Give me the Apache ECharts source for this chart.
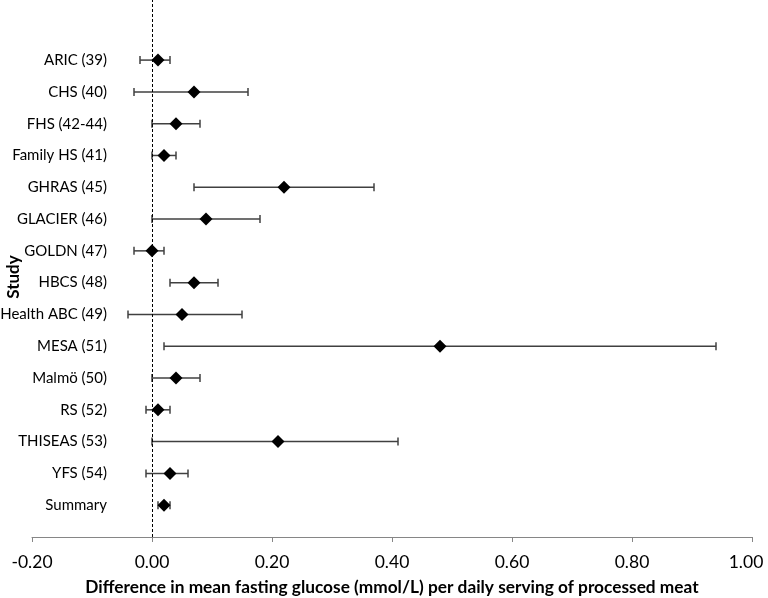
<!DOCTYPE html>
<html>
<head>
<meta charset="utf-8">
<script src="https://cdn.jsdelivr.net/npm/echarts@6/dist/echarts.min.js"></script>
<style>html,body{margin:0;padding:0;background:#fff;}#c{width:768px;height:598px;}</style>
</head>
<body>
<div id="c"></div>
<script>
const studies = ['ARIC (39)','CHS (40)','FHS (42-44)','Family HS (41)','GHRAS (45)','GLACIER (46)','GOLDN (47)','HBCS (48)','Health ABC (49)','MESA (51)','Malmö (50)','RS (52)','THISEAS (53)','YFS (54)','Summary'];
const estimate = [0.01,0.07,0.04,0.02,0.22,0.09,0.00,0.07,0.05,0.48,0.04,0.01,0.21,0.03,0.02];
const lower = [-0.02,-0.03,0.00,0.00,0.07,0.00,-0.03,0.03,-0.04,0.02,0.00,-0.01,0.00,-0.01,0.01];
const upper = [0.03,0.16,0.08,0.04,0.37,0.18,0.02,0.11,0.15,0.94,0.08,0.03,0.41,0.06,0.03];
const xMin = -0.2, xMax = 1.0, xStep = 0.2;
const xTitle = 'Difference in mean fasting glucose (mmol/L) per daily serving of processed meat';
const yTitle = 'Study';

const n = studies.length;
const FONT = 'Lato';
const chart = echarts.init(document.getElementById('c'), null, {renderer:'canvas'});
const pts = estimate.map((v,i)=>[v, n - i]);
const bars = lower.map((lo,i)=>[lo, upper[i], n - i]);

chart.setOption({
  animation:false,
  backgroundColor:'#fff',
  grid:{left:32, right:16, top:0, bottom:61, containLabel:false, outerBoundsMode:'none'},
  xAxis:{
    type:'value', min:xMin, max:xMax, interval:xStep,
    name:xTitle, nameLocation:'middle', nameGap:42,
    nameTextStyle:{fontFamily:FONT, fontSize:17.3, fontWeight:'bold', color:'#000'},
    axisLine:{show:true, onZero:false, lineStyle:{color:'#868686', width:1}},
    axisTick:{show:true, length:5, lineStyle:{color:'#868686'}},
    splitLine:{show:false},
    axisLabel:{fontFamily:FONT, fontSize:17.5, color:'#000', margin:16,
      formatter:v=>{const s=v.toFixed(2); return Math.abs(v-xMax)<1e-9 ? '{r|'+s+'}' : s;},
      rich:{r:{fontFamily:FONT, fontSize:17.5, color:'#000', padding:[0,12,0,0]}}}
  },
  yAxis:{
    type:'value', min:0, max:16.89, interval:1,
    axisLine:{show:false}, axisTick:{show:false}, splitLine:{show:false},
    axisLabel:{fontFamily:FONT, fontSize:15, color:'#000', margin:-75, align:'right',
      showMaxLabel:false, showMinLabel:false,
      formatter:v=>{const k=Math.round(v); if(Math.abs(v-k)>1e-6) return ''; const i=n-k; return (i>=0&&i<n)?studies[i]:'';}}
  },
  graphic:[{
    type:'text', x:14, y:277, rotation:Math.PI/2,
    style:{text:yTitle, fontFamily:FONT, fontSize:17, fontWeight:'bold', fill:'#000', align:'center', verticalAlign:'middle'}
  }],
  series:[
    {
      type:'custom',
      data:bars,
      renderItem:(params, api)=>{
        const a = api.coord([api.value(0), api.value(2)]);
        const b = api.coord([api.value(1), api.value(2)]);
        const st = {stroke:'#404040', lineWidth:1.5};
        return {type:'group', children:[
          {type:'line', shape:{x1:a[0], y1:a[1], x2:b[0], y2:b[1]}, style:st},
          {type:'line', shape:{x1:a[0], y1:a[1]-4, x2:a[0], y2:a[1]+4}, style:st},
          {type:'line', shape:{x1:b[0], y1:b[1]-4, x2:b[0], y2:b[1]+4}, style:st}
        ]};
      },
      z:2
    },
    {
      type:'scatter',
      data:pts,
      symbol:'diamond', symbolSize:[13,13],
      itemStyle:{color:'#000', opacity:1},
      z:3,
      markLine:{
        silent:true, symbol:['none','none'], label:{show:false},
        lineStyle:{color:'#000', type:[3,2], width:1},
        data:[{xAxis:0}]
      }
    }
  ]
});
</script>
</body>
</html>
